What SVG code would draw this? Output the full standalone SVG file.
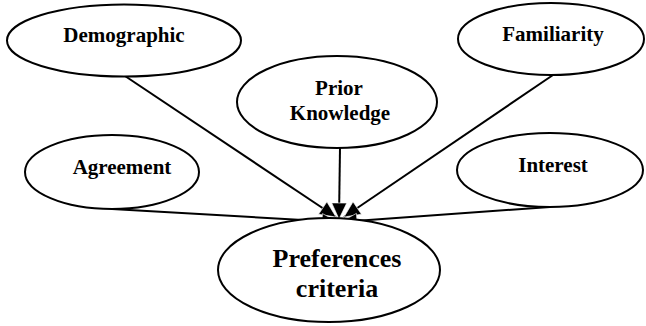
<svg xmlns="http://www.w3.org/2000/svg" width="646" height="326" viewBox="0 0 646 326">
  <style>
    .node ellipse { fill: #fff; stroke: #000; stroke-width: 2; }
    .label { font-family: "Liberation Serif", "Times New Roman", serif; font-weight: bold; font-size: 21px; fill: #000; text-anchor: middle; }
    .big { font-size: 26px; }
    .edge { stroke: #000; stroke-width: 2; fill: none; marker-end: url(#head); }
  </style>
  <defs>
    <marker id="head" markerUnits="userSpaceOnUse" markerWidth="18" markerHeight="16" refX="16" refY="7.5" orient="auto" overflow="visible">
      <path d="M0,0 L16,7.5 L0,15 Z" fill="#000" stroke="#fff" stroke-width="0.6"/>
    </marker>
  </defs>
  <rect width="646" height="326" fill="#fff"/>

  <g id="connectors">
    <line class="edge" x1="125" y1="76" x2="336" y2="217"/>
    <line class="edge" x1="553" y1="75" x2="344" y2="217"/>
    <line class="edge" x1="112" y1="209" x2="338" y2="222"/>
    <line class="edge" x1="550" y1="207" x2="341" y2="222"/>
    <line class="edge" x1="340" y1="148" x2="339" y2="219"/>
  </g>

  <g id="preferences" class="node">
    <ellipse cx="329" cy="270" rx="111" ry="52"/>
    <text class="label big" x="337" y="267">Preferences</text>
    <text class="label big" x="337" y="297">criteria</text>
  </g>

  <g id="demographic" class="node">
    <ellipse cx="124" cy="40.5" rx="117" ry="36"/>
    <text class="label" x="124" y="42">Demographic</text>
  </g>

  <g id="familiarity" class="node">
    <ellipse cx="551" cy="39" rx="93" ry="36"/>
    <text class="label" x="553" y="41">Familiarity</text>
  </g>

  <g id="prior-knowledge" class="node">
    <ellipse cx="337" cy="102" rx="100" ry="46"/>
    <text class="label" x="339" y="95">Prior</text>
    <text class="label" x="340" y="120">Knowledge</text>
  </g>

  <g id="agreement" class="node">
    <ellipse cx="112" cy="172" rx="87" ry="37"/>
    <text class="label" x="122" y="174">Agreement</text>
  </g>

  <g id="interest" class="node">
    <ellipse cx="550" cy="170" rx="93" ry="37"/>
    <text class="label" x="553" y="172">Interest</text>
  </g>
</svg>
